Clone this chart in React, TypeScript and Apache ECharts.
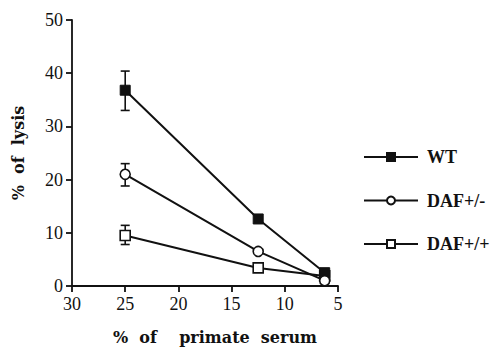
import React, { useEffect, useRef } from "react";
import * as echarts from "echarts";

const serumPct = [25, 12.5, 6.25];
const wtLysis = [36.8, 12.6, 2.5];
const dafHetLysis = [21.0, 6.5, 1.0];
const dafHomLysis = [9.5, 3.4, 1.9];
// error bars at 25% serum: [x, low, high]
const wtErr = [[25, 33.0, 40.4]];
const dafHetErr = [[25, 18.8, 23.0]];
const dafHomErr = [[25, 7.8, 11.4]];
const xTicks = [30, 25, 20, 15, 10, 5];
const seriesNames = ["WT", "DAF+/-", "DAF+/+"];

const SERIF = "'Liberation Serif', 'Times New Roman', Times, serif";
const toPairs = (ys: number[]) => serumPct.map((x, i) => [x, ys[i]]);

function errSeries(data: number[][], z: number) {
  return {
    type: "custom",
    z,
    silent: true,
    data,
    renderItem: (params: any, api: any) => {
      const x = api.value(0);
      const lo = api.coord([x, api.value(1)]);
      const hi = api.coord([x, api.value(2)]);
      const w = 4.5;
      const style = { stroke: "#111", lineWidth: 1.6 };
      return {
        type: "group",
        children: [
          { type: "line", shape: { x1: lo[0], y1: lo[1], x2: hi[0], y2: hi[1] }, style },
          { type: "line", shape: { x1: hi[0] - w, y1: hi[1], x2: hi[0] + w, y2: hi[1] }, style },
          { type: "line", shape: { x1: lo[0] - w, y1: lo[1], x2: lo[0] + w, y2: lo[1] }, style },
        ],
      };
    },
  };
}

export default function App() {
  const ref = useRef<HTMLDivElement>(null);
  useEffect(() => {
    const chart = echarts.init(ref.current!, null, { renderer: "svg" });
    const lineStyle = { color: "#111", width: 2 };
    chart.setOption({
      animation: false,
      backgroundColor: "#fff",
      grid: { left: 72, right: 154, top: 20, bottom: 63 },
      xAxis: {
        type: "value",
        min: 5,
        max: 30,
        interval: 5,
        inverse: true,
        name: "%  of    primate  serum",
        nameLocation: "middle",
        nameGap: 43,
        nameTextStyle: {
          fontFamily: "DejaVu Serif",
          fontWeight: "bold",
          fontSize: 16,
          color: "#111",
          padding: [0, 0, 0, 20],
        },
        axisLine: { lineStyle: { color: "#111", width: 1.8 } },
        axisTick: { inside: false, length: 6, lineStyle: { color: "#111", width: 1.8 } },
        axisLabel: {
          margin: 9,
          fontFamily: SERIF,
          fontSize: 18,
          color: "#111",
          formatter: (v: number) => (xTicks.includes(v) ? String(v) : ""),
        },
        splitLine: { show: false },
      },
      yAxis: {
        type: "value",
        min: 0,
        max: 50,
        interval: 10,
        name: "%  of  lysis",
        nameLocation: "middle",
        nameGap: 46,
        nameTextStyle: {
          fontFamily: "DejaVu Serif",
          fontWeight: "bold",
          fontSize: 16,
          color: "#111",
        },
        axisLine: { show: true, lineStyle: { color: "#111", width: 1.8 } },
        axisTick: { show: true, length: 6, lineStyle: { color: "#111", width: 1.8 } },
        axisLabel: {
          margin: 9,
          fontFamily: SERIF,
          fontSize: 18,
          color: "#111",
        },
        splitLine: { show: false },
      },
      legend: {
        orient: "vertical",
        left: 358,
        top: 143,
        itemWidth: 54,
        itemHeight: 10,
        itemGap: 25.5,
        data: seriesNames,
        textStyle: {
          fontFamily: SERIF,
          fontWeight: "bold",
          fontSize: 18,
          color: "#111",
          padding: [0, 0, 0, 4],
        },
      },
      series: [
        errSeries(dafHomErr, 1),
        errSeries(dafHetErr, 1),
        errSeries(wtErr, 1),
        {
          name: "DAF+/+",
          type: "line",
          z: 3,
          data: toPairs(dafHomLysis),
          symbol: "rect",
          symbolSize: 10,
          lineStyle,
          itemStyle: { color: "#fff", borderColor: "#111", borderWidth: 1.6 },
        },
        {
          name: "WT",
          type: "line",
          z: 4,
          data: toPairs(wtLysis),
          symbol: "rect",
          symbolSize: 10,
          lineStyle,
          itemStyle: { color: "#111", borderColor: "#111", borderWidth: 1 },
        },
        {
          name: "DAF+/-",
          type: "line",
          z: 5,
          data: toPairs(dafHetLysis),
          symbol: "circle",
          symbolSize: 10,
          lineStyle,
          itemStyle: { color: "#fff", borderColor: "#111", borderWidth: 1.6 },
        },
      ],
    });
    return () => chart.dispose();
  }, []);
  return <div ref={ref} style={{ width: 492, height: 350, position: "absolute", left: 0, top: 0 }} />;
}
